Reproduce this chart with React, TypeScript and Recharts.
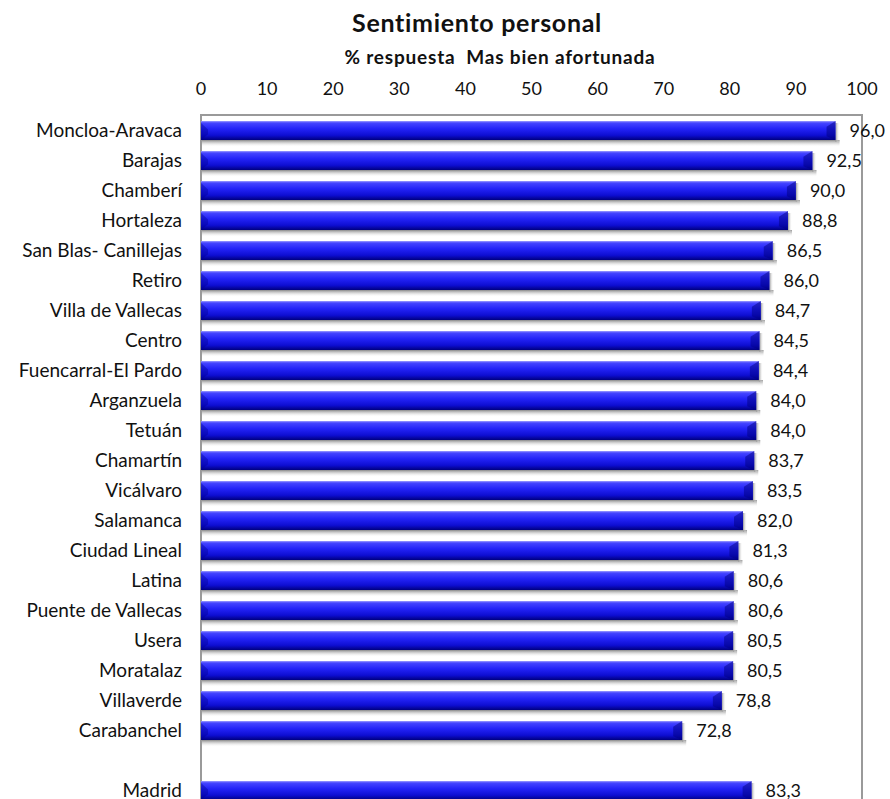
import React from 'react';
import { BarChart, Bar, XAxis, YAxis, LabelList, ReferenceArea } from 'recharts';

const districts = [
  'Moncloa-Aravaca', 'Barajas', 'Chamberí', 'Hortaleza', 'San Blas- Canillejas', 'Retiro',
  'Villa de Vallecas', 'Centro', 'Fuencarral-El Pardo', 'Arganzuela', 'Tetuán', 'Chamartín',
  'Vicálvaro', 'Salamanca', 'Ciudad Lineal', 'Latina', 'Puente de Vallecas', 'Usera',
  'Moratalaz', 'Villaverde', 'Carabanchel', '', 'Madrid',
];
const values: (number | null)[] = [
  96.0, 92.5, 90.0, 88.8, 86.5, 86.0, 84.7, 84.5, 84.4, 84.0, 84.0, 83.7,
  83.5, 82.0, 81.3, 80.6, 80.6, 80.5, 80.5, 78.8, 72.8, null, 83.3,
];
const xTicks = [0, 10, 20, 30, 40, 50, 60, 70, 80, 90, 100];

const data = districts.map((name, i) => ({ name, value: values[i] }));

const FONT = 'Lato, "Open Sans", sans-serif';

const BarShape = (props: any) => {
  const { x, y, width, height } = props;
  if (!width || width <= 0) return null;
  const cap = 9;
  return (
    <g>
      <rect x={x + 1} y={y + height} width={width + 3} height={7} fill="url(#shadowGrad)" />
      <rect x={x + width} y={y + 2} width={4} height={height} fill="url(#shadowSide)" />
      <rect x={x} y={y} width={width} height={height} fill="url(#barGrad)" />
      <polygon
        points={`${x + width - cap},${y + height * 0.3} ${x + width},${y} ${x + width},${y + height} ${x + width - cap},${y + height * 0.8}`}
        fill="#000080"
        opacity={0.5}
      />
      <polygon
        points={`${x},${y + 2} ${x + 7},${y + height * 0.45} ${x + 7},${y + height * 0.7} ${x},${y + height}`}
        fill="#000090"
        opacity={0.4}
      />
    </g>
  );
};

const fmt = (v: any) => (v == null ? '' : Number(v).toFixed(1).replace('.', ','));

export default function App() {
  return (
    <div style={{ position: 'absolute', left: 0, top: 0, width: 890, height: 810, background: '#fff', fontFamily: FONT }}>
      <div style={{ position: 'absolute', left: 0, width: 954, top: 7, textAlign: 'center', fontSize: 25, fontWeight: 'bold', color: '#111', lineHeight: '30px', letterSpacing: 0.7 }}>
        Sentimiento personal
      </div>
      <div style={{ position: 'absolute', left: 0, width: 1000, top: 46, textAlign: 'center', fontSize: 19, fontWeight: 'bold', color: '#111', lineHeight: '22px', letterSpacing: 0.8 }}>
        % respuesta&nbsp;&nbsp;Mas bien afortunada
      </div>
      <BarChart
        width={890}
        height={810}
        data={data}
        layout="vertical"
        margin={{ top: 85, right: 28, bottom: 5, left: 0 }}
        barCategoryGap={0}
      >
        <defs>
          <linearGradient id="barGrad" x1="0" y1="0" x2="0" y2="1">
            <stop offset="0%" stopColor="#a0a0ff" />
            <stop offset="10%" stopColor="#4545ff" />
            <stop offset="40%" stopColor="#2424f8" />
            <stop offset="75%" stopColor="#0e0ed2" />
            <stop offset="100%" stopColor="#000080" />
          </linearGradient>
          <linearGradient id="shadowGrad" x1="0" y1="0" x2="0" y2="1">
            <stop offset="0%" stopColor="#888888" />
            <stop offset="100%" stopColor="#ffffff" stopOpacity={0} />
          </linearGradient>
          <linearGradient id="shadowSide" x1="0" y1="0" x2="1" y2="0">
            <stop offset="0%" stopColor="#999999" />
            <stop offset="100%" stopColor="#ffffff" stopOpacity={0} />
          </linearGradient>
        </defs>
        <XAxis
          type="number"
          orientation="top"
          domain={[0, 100]}
          ticks={xTicks}
          height={30}
          axisLine={false}
          tickLine={false}
          tickSize={0}
          tickMargin={20}
          tick={{ fill: '#111', fontSize: 18, fontFamily: FONT }}
          interval={0}
        />
        <YAxis
          type="category"
          dataKey="name"
          width={201}
          axisLine={false}
          tickLine={false}
          tickSize={0}
          tickMargin={19}
          interval={0}
          tick={{ fill: '#111', fontSize: 19, fontFamily: FONT }}
        />
        <ReferenceArea x1={0} x2={100} fill="none" stroke="#9a9a9a" strokeWidth={2} ifOverflow="visible" />
        <Bar dataKey="value" barSize={19} isAnimationActive={false} shape={<BarShape />}>
          <LabelList
            dataKey="value"
            position="right"
            offset={14}
            formatter={fmt}
            style={{ fill: '#111', fontSize: 18, fontFamily: FONT }}
          />
        </Bar>
      </BarChart>
    </div>
  );
}
